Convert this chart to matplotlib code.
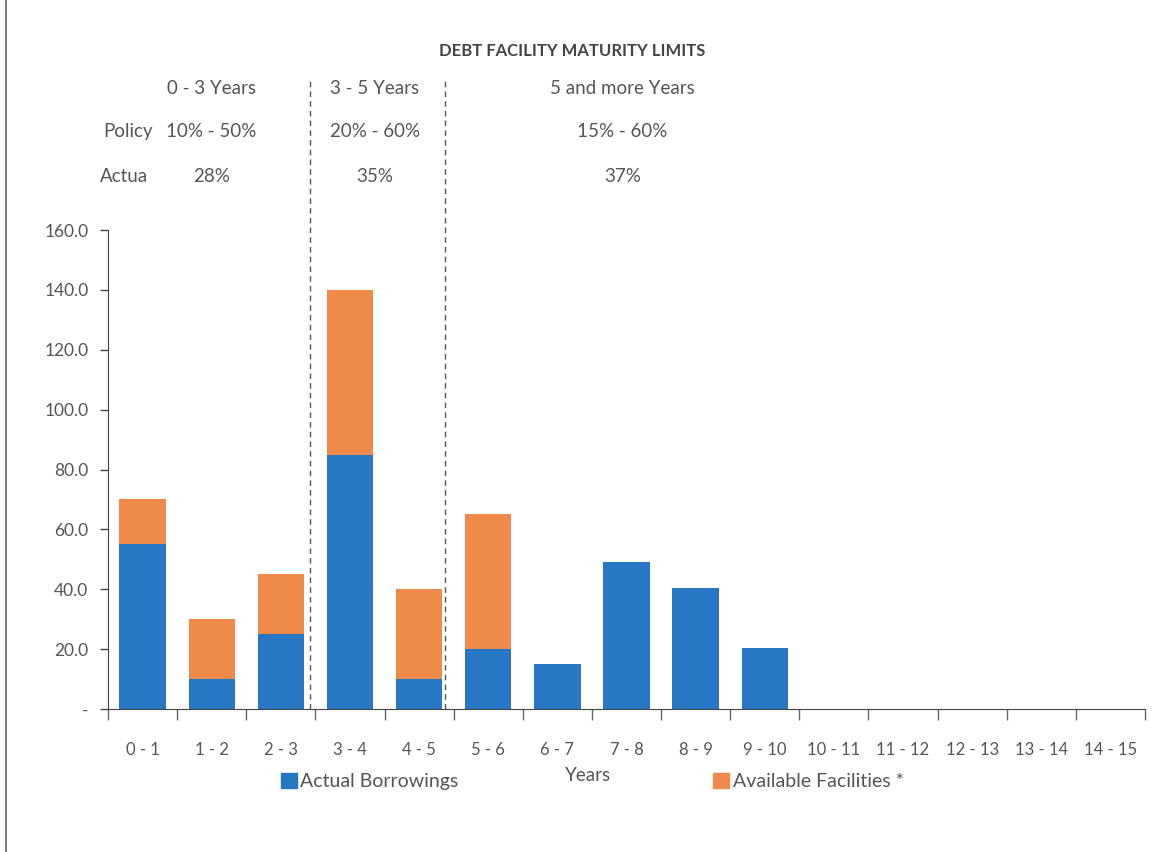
import numpy as np
import matplotlib.pyplot as plt
from matplotlib.patches import Patch

plt.rcParams['font.family'] = ['Lato', 'DejaVu Sans']

# Data
categories = ["0 - 1", "1 - 2", "2 - 3", "3 - 4", "4 - 5", "5 - 6", "6 - 7", "7 - 8",
              "8 - 9", "9 - 10", "10 - 11", "11 - 12", "12 - 13", "13 - 14", "14 - 15"]
actual_borrowings = [55, 10, 25, 85, 10, 20, 15, 49, 40.5, 20.3, 0, 0, 0, 0, 0]
available_facilities = [15, 20, 20, 55, 30, 45, 0, 0, 0, 0, 0, 0, 0, 0, 0]

bands = ["0 - 3 Years", "3 - 5 Years", "5 and more Years"]
policy = ["10% - 50%", "20% - 60%", "15% - 60%"]
actual_pct = ["28%", "35%", "37%"]

blue = "#2777c4"
orange = "#f08a4b"
grey = "#555555"

fig = plt.figure(figsize=(11.71, 8.52), dpi=100)
ax = fig.add_axes([0.0922, 0.1678, 0.8856, 0.5622])

x = np.arange(len(categories))
ax.bar(x, actual_borrowings, width=0.67, color=blue)
ax.bar(x, available_facilities, width=0.67, bottom=actual_borrowings, color=orange)

ax.set_xlim(-0.5, len(categories) - 0.5)
ax.set_ylim(0, 160)

yt = np.arange(0, 161, 20)
ax.set_yticks(yt)
ax.set_yticklabels(["-"] + [f"{v:.1f}" for v in yt[1:]], fontsize=12.5, color=grey)
ax.tick_params(axis='y', length=6, width=1, color='#444444', pad=8)

ax.set_xticks(x)
ax.set_xticklabels(categories, fontsize=12, color=grey)
ax.tick_params(axis='x', which='major', length=0, pad=24)
ax.set_xticks(np.arange(len(categories) + 1) - 0.5, minor=True)
ax.tick_params(axis='x', which='minor', length=8, width=1, color='#666666')

for side in ['top', 'right']:
    ax.spines[side].set_visible(False)
ax.spines['left'].set_color('#444444')
ax.spines['bottom'].set_color('#444444')

# dashed separators reaching into the header
for xs in [2.42, 4.37]:
    ax.plot([xs, xs], [0, 210], color='#555555', lw=1, ls=(0, (4, 3)), clip_on=False)

# header
ax.text(6.22, 219.7, "DEBT FACILITY MATURITY LIMITS", ha='center', va='center',
        fontsize=12, fontweight='bold', color='#444444')
band_x = [1.0, 3.36, 6.94]
for bx, b, p, a in zip(band_x, bands, policy, actual_pct):
    ax.text(bx, 207.3, b, ha='center', va='center', fontsize=13.5, color=grey)
    ax.text(bx, 193, p, ha='center', va='center', fontsize=13.5, color=grey)
    ax.text(bx, 178, a, ha='center', va='center', fontsize=13.5, color=grey)
ax.text(-0.57, 193, "Policy", ha='left', va='center', fontsize=13.5, color=grey)
ax.text(-0.62, 178, "Actua", ha='left', va='center', fontsize=13.5, color=grey)

ax.set_xlabel("Years", fontsize=13.5, color=grey, labelpad=2)
ax.xaxis.set_label_coords(0.463, -0.12)

fig.legend(handles=[Patch(color=blue)], labels=["Actual Borrowings"],
           loc='center left', bbox_to_anchor=(0.225, 0.083), frameon=False,
           fontsize=14, handlelength=0.8, handleheight=0.8, handletextpad=0.2,
           labelcolor=grey)
fig.legend(handles=[Patch(color=orange)], labels=["Available Facilities *"],
           loc='center left', bbox_to_anchor=(0.594, 0.083), frameon=False,
           fontsize=14, handlelength=0.8, handleheight=0.8, handletextpad=0.2,
           labelcolor=grey)

# scan border on the left
fig.add_artist(plt.Line2D([0.005, 0.005], [0, 1], color='#666666', lw=1.2))

plt.savefig("out.png", dpi=100)
